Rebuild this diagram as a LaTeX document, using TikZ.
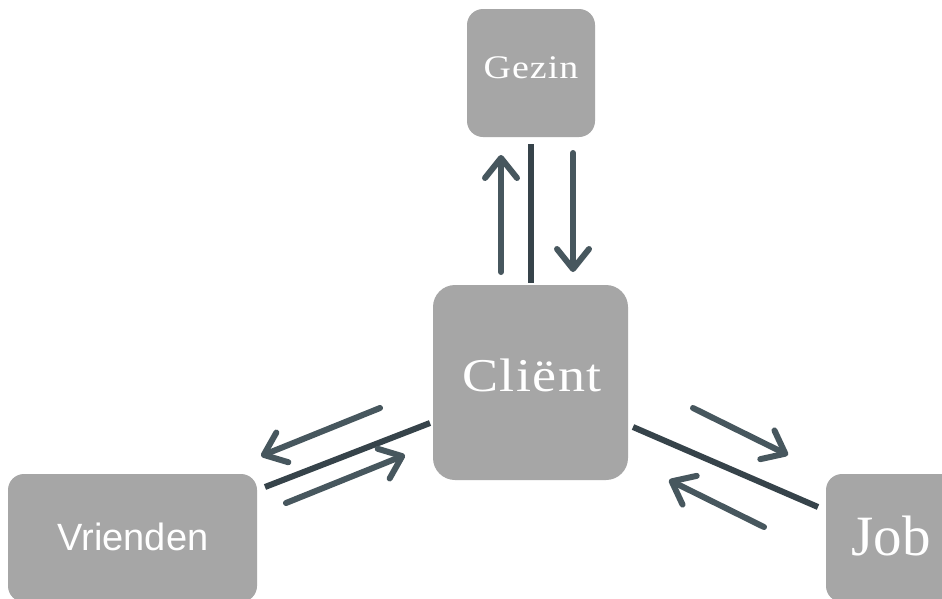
\documentclass[tikz,border=0pt]{standalone}
\usepackage{fontspec}
\setmainfont{Liberation Serif}
\newfontfamily\sansf{Liberation Sans}
\newfontfamily\serifw[FakeStretch=1.15,LetterSpace=3]{Liberation Serif}
\usetikzlibrary{arrows.meta}
\definecolor{boxgray}{HTML}{A6A6A6}
\definecolor{arrcol}{HTML}{47575E}
\definecolor{linecol}{HTML}{36434A}
\begin{document}
\begin{tikzpicture}[x=1pt,y=-1pt,
  box/.style={fill=boxgray, draw=none, rounded corners=#1, inner sep=0pt},
  box/.default=16pt,
  lab/.style={text=white, inner sep=0pt, anchor=base},
  arr/.style={draw=arrcol, line width=6pt, line cap=round,
    -{Straight Barb[length=20pt,width=32pt,round]}},
  sep/.style={draw=linecol, line width=6pt}]
\useasboundingbox (0,0) rectangle (942,598);
\fill[white] (0,0) rectangle (942,598);
\begin{scope}
\clip (0,0) rectangle (942,598);
% boxes
\node[box, minimum width=128pt, minimum height=128pt] (gezin) at (531,73) {};
\node[box=22pt, minimum width=195pt, minimum height=195pt] (client) at (530.5,382.5) {};
\node[box=16pt, minimum width=249pt, minimum height=128pt] (vrienden) at (132.5,538) {};
\node[box=16pt, minimum width=140pt, minimum height=128pt] (job) at (896,538) {};
\end{scope}
% labels
\node[lab] (gezinT) at (531,78) {\serifw\fontsize{33}{40}\selectfont Gezin};
\node[lab] (clientT) at (532,391) {\serifw\fontsize{47}{56}\selectfont Cliënt};
\node[lab] (vriendenT) at (133,550) {\sansf\fontsize{38}{44}\selectfont Vrienden};
\node[lab] (jobT) at (891,555) {\fontsize{57}{66}\selectfont Job};
% coordinates
\coordinate (g1s) at (501,272); \coordinate (g1e) at (501,155);
\coordinate (gls) at (531,144); \coordinate (gle) at (531,283);
\coordinate (g2s) at (573,153); \coordinate (g2e) at (573,272);
\coordinate (v1s) at (380,408); \coordinate (v1e) at (261,456);
\coordinate (vls) at (265,487); \coordinate (vle) at (430,423);
\coordinate (v2s) at (286,503); \coordinate (v2e) at (405,455);
\coordinate (j1s) at (693,408); \coordinate (j1e) at (788,455);
\coordinate (jls) at (633,427); \coordinate (jle) at (818,507);
\coordinate (j2s) at (764,527); \coordinate (j2e) at (669,480);
% connectors
\draw[arr] (g1s) -- (g1e);
\draw[sep] (gls) -- (gle);
\draw[arr] (g2s) -- (g2e);
\draw[arr] (v1s) -- (v1e);
\draw[sep] (vls) -- (vle);
\draw[arr] (v2s) -- (v2e);
\draw[arr] (j1s) -- (j1e);
\draw[sep] (jls) -- (jle);
\draw[arr] (j2s) -- (j2e);
\end{tikzpicture}
\end{document}
